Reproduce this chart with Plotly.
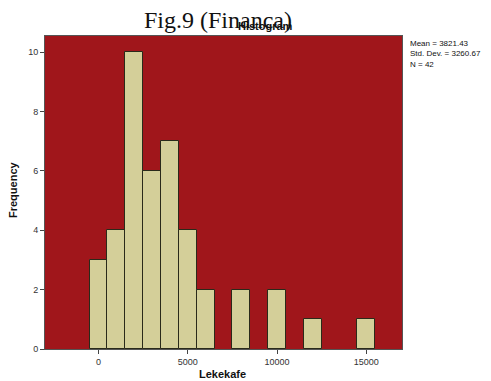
import plotly.graph_objects as go

bin_centers = [0, 1000, 2000, 3000, 4000, 5000, 6000, 8000, 10000, 12000, 15000]
counts = [3, 4, 10, 6, 7, 4, 2, 2, 2, 1, 1]
x_ticks = [0, 5000, 10000, 15000]
y_ticks = [0, 2, 4, 6, 8, 10]
stats_lines = ["Mean = 3821.43", "Std. Dev. = 3260.67", "N = 42"]

fig = go.Figure()
fig.add_trace(go.Bar(
    x=bin_centers, y=counts, width=1000,
    marker=dict(color="#D4CF99", line=dict(color="#2a2a1a", width=1)),
))

W, H = 491, 381
L, R, T, B = 45, 89, 36, 32
PW, PH = W - L - R, H - T - B

def px(x):
    return (x - L) / PW

def py(y):
    return 1 - (y - T) / PH

fig.update_layout(
    width=W, height=H,
    margin=dict(l=L, r=R, t=T, b=B, pad=0),
    paper_bgcolor="white",
    plot_bgcolor="#A0161B",
    showlegend=False,
    bargap=0,
    font=dict(family="Liberation Sans, Arial, sans-serif", size=9, color="#333"),
    xaxis=dict(
        range=[-3000, 17000], tickvals=x_ticks, ticktext=[str(v) for v in x_ticks],
        showgrid=False, zeroline=False, ticks="outside", ticklen=4, tickcolor="#444",
        showline=True, linecolor="#555", linewidth=1, mirror=True, automargin=False,
    ),
    yaxis=dict(
        range=[0, 10.55], tickvals=y_ticks,
        showgrid=False, zeroline=False, ticks="outside", ticklen=4, tickcolor="#444",
        showline=True, linecolor="#555", linewidth=1, mirror=True, automargin=False,
    ),
)

fig.add_annotation(
    text="<b>Lekekafe</b>", xref="paper", yref="paper",
    x=px(222), y=py(374), xanchor="center", yanchor="middle", showarrow=False,
    font=dict(family="Liberation Sans, Arial, sans-serif", size=11, color="#111"),
)
fig.add_annotation(
    text="<b>Frequency</b>", xref="paper", yref="paper", textangle=-90,
    x=px(13), y=py(190), xanchor="center", yanchor="middle", showarrow=False,
    font=dict(family="Liberation Sans, Arial, sans-serif", size=11, color="#111"),
)
fig.add_annotation(
    text="Fig.9 (Financa)", xref="paper", yref="paper",
    x=px(218), y=py(20),
    xanchor="center", yanchor="middle", showarrow=False,
    font=dict(family="Liberation Serif, Times New Roman, serif", size=24, color="#111"),
)
fig.add_annotation(
    text="<b>Histogram</b>", xref="paper", yref="paper",
    x=px(265), y=py(26),
    xanchor="center", yanchor="middle", showarrow=False,
    font=dict(family="Liberation Sans, Arial, sans-serif", size=11, color="#111"),
)
fig.add_annotation(
    text="<br>".join(stats_lines), xref="paper", yref="paper",
    x=px(408), y=py(37),
    xanchor="left", yanchor="top", align="left", showarrow=False,
    font=dict(family="Liberation Sans, Arial, sans-serif", size=8, color="#111"),
)

fig.write_html("out.html")
